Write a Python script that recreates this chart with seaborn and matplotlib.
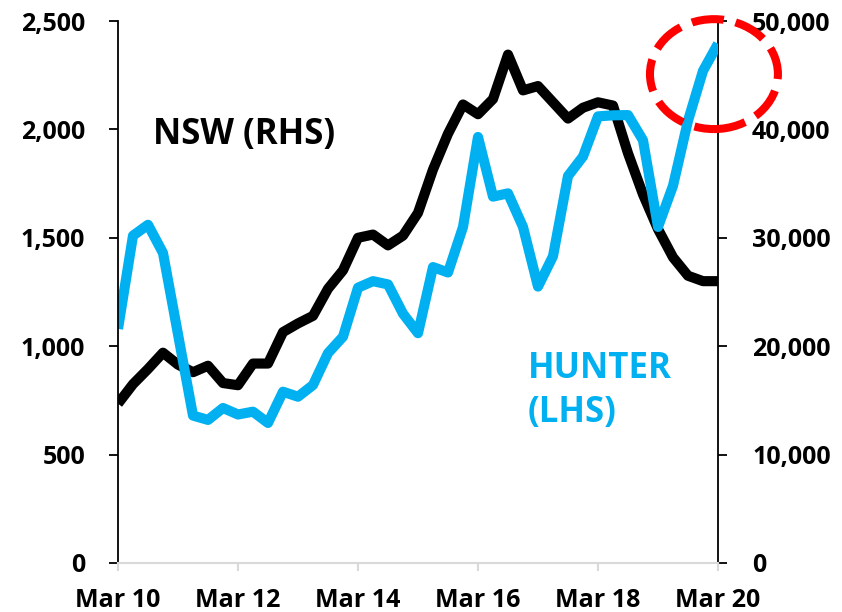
import numpy as np
import pandas as pd
import matplotlib
matplotlib.use('Agg')
import matplotlib.pyplot as plt
import matplotlib.ticker as mticker
from matplotlib.patches import Ellipse
import seaborn as sns

# ── data (quarterly, Mar 2010 to Mar 2020) ───────────────────────────────────

quarters = pd.date_range('2010-03-01', '2020-03-01', freq='QS-MAR')

hunter_lhs = [
    1080, 1510, 1560, 1430, 1055, 680, 660, 715, 685, 698,
    646, 790, 767, 821, 968, 1044, 1270, 1300, 1285, 1150,
    1060, 1365, 1340, 1550, 1965, 1690, 1705, 1550, 1275, 1415,
    1785, 1875, 2060, 2065, 2066, 1950, 1550, 1740, 2040, 2270,
    2395,
]

nsw_rhs = [
    14700, 16500, 17900, 19400, 18300, 17600, 18200, 16600, 16400, 18400,
    18400, 21300, 22100, 22800, 25300, 27000, 30000, 30300, 29300, 30200,
    32300, 36300, 39600, 42300, 41400, 42800, 46900, 43600, 44000, 42500,
    41000, 42000, 42500, 42200, 37800, 34000, 30800, 28200, 26500, 26000,
    26000,
]

tick_every = 8  # two years
BLUE = '#00B0F0'

df = pd.DataFrame({
    'pos': np.arange(len(quarters)),
    'hunter': hunter_lhs,
    'nsw': nsw_rhs,
})

sns.set_theme(style='white')
plt.rcParams['font.family'] = ['Open Sans', 'DejaVu Sans']
plt.rcParams['font.weight'] = 'bold'

fig = plt.figure(figsize=(8.42, 6.12), dpi=100)
ax = fig.add_axes([118 / 842, 49 / 612, 600 / 842, 542 / 612])
ax2 = ax.twinx()

# left axis drawn above so the blue line sits on top of the black one
ax.set_zorder(2)
ax2.set_zorder(1)
ax.patch.set_visible(False)

sns.lineplot(data=df, x='pos', y='nsw', ax=ax2, color='black', linewidth=7.3,
             solid_joinstyle='round', solid_capstyle='butt')
sns.lineplot(data=df, x='pos', y='hunter', ax=ax, color=BLUE, linewidth=7.3,
             solid_joinstyle='round', solid_capstyle='butt')

ax.set_xlim(0, len(quarters) - 1)
ax.set_ylim(0, 2500)
ax2.set_ylim(0, 50000)
ax.set_xlabel('')
ax.set_ylabel('')
ax2.set_ylabel('')

ticks = df['pos'][::tick_every]
ax.set_xticks(ticks)
ax.set_xticklabels([d.strftime('%b %y') for d in quarters[::tick_every]])
ax.set_yticks(np.arange(0, 2501, 500))
ax2.set_yticks(np.arange(0, 50001, 10000))
fmt = mticker.FuncFormatter(lambda v, _: f'{v:,.0f}')
ax.yaxis.set_major_formatter(fmt)
ax2.yaxis.set_major_formatter(fmt)

for a in (ax, ax2):
    a.spines['top'].set_visible(False)
ax.spines['right'].set_visible(False)
ax2.spines['left'].set_visible(False)
ax2.spines['bottom'].set_visible(False)
ax.spines['left'].set_color('black')
ax.spines['left'].set_linewidth(1.3)
ax2.spines['right'].set_color('black')
ax2.spines['right'].set_linewidth(1.3)
ax.spines['bottom'].set_color('#D9D9D9')
ax.spines['bottom'].set_linewidth(1.5)

ax.tick_params(axis='y', direction='out', length=6.5, width=1.3, color='black',
               pad=17, labelsize=18, left=True)
ax2.tick_params(axis='y', direction='out', length=6.5, width=1.3, color='black',
                pad=18, labelsize=18, right=True)
ax.tick_params(axis='x', direction='out', length=6, width=1.5, color='#D9D9D9',
               pad=12, labelsize=18, bottom=True)
for lab in ax.get_xticklabels() + ax.get_yticklabels() + ax2.get_yticklabels():
    lab.set_fontweight('bold')
    lab.set_color('black')

# series labels
ax.text(2.33, 1974, 'NSW (RHS)', fontsize=25, fontweight='bold', color='black',
        ha='left', va='center')
ax.text(27.33, 793, 'HUNTER\n(LHS)', fontsize=25, fontweight='bold', color=BLUE,
        ha='left', va='center', linespacing=1.3)

# red dashed highlight ring
ring = Ellipse((39.73, 2255), width=8.53, height=507, fill=False,
               edgecolor='#FF0000', linewidth=5.8, linestyle=(0, (4, 1.5)),
               clip_on=False, zorder=5)
ax.add_patch(ring)

fig.savefig('out.png', dpi=100)
plt.close(fig)
